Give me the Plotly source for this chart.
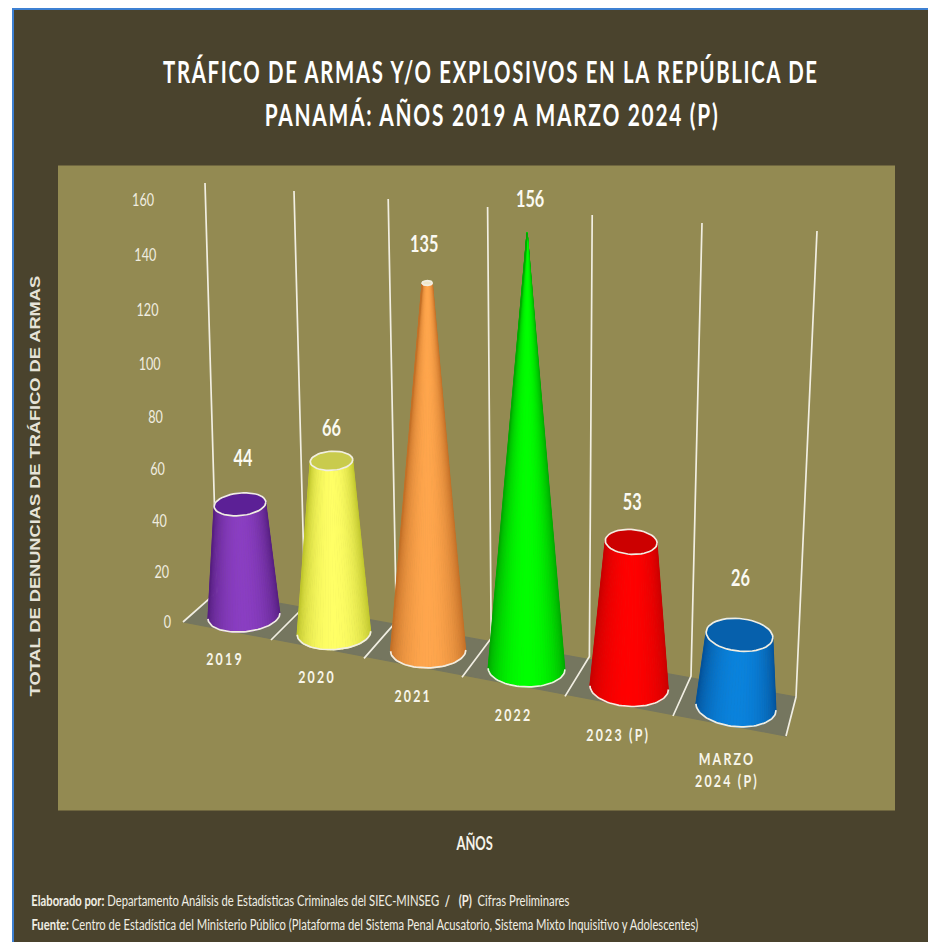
import json
import math
import plotly.graph_objects as go

# ---- data ----
CATEGORIES = ["2019", "2020", "2021", "2022", "2023 (P)", "MARZO<br>2024 (P)"]
VALUES = [44, 66, 135, 156, 53, 26]
Y_TICKS = [0, 20, 40, 60, 80, 100, 120, 140, 160]

TITLE_LINES = ["TRÁFICO DE ARMAS Y/O EXPLOSIVOS EN LA REPÚBLICA DE",
               "PANAMÁ: AÑOS 2019 A MARZO 2024 (P)"]
Y_TITLE = "TOTAL DE DENUNCIAS DE TRÁFICO DE ARMAS"
X_TITLE = "AÑOS"
FOOT_1 = ("<b>Elaborado por:</b> Departamento Análisis de Estadísticas Criminales del SIEC-MINSEG"
          "  <b>/</b>   <b>(P)</b>  Cifras Preliminares")
FOOT_2 = ("<b>Fuente:</b> Centro de Estadística del Ministerio Público (Plataforma del Sistema Penal "
          "Acusatorio, Sistema Mixto Inquisitivo y Adolescentes)")

# ---- styles ----
EDGE = ["#561f80", "#bfc52c", "#c26f27", "#00a800", "#c80000", "#04529a"]
MID = ["#8a3ec2", "#ffff66", "#ffa64d", "#00ff00", "#ff0000", "#0a82dc"]
INNER = ["#5c2096", "#c9cb4d", "#efe6c8", "#00ff00", "#cc0000", "#0660ac"]
LABEL_LIFT = [44, 30, 37, 31, 37, 54]
LABEL_SHIFT = [3, 0, -3, 3, 1, 1]
WHITE = "#f1eee2"
LATO = "Lato, sans-serif"
N_STRIPS = 40

# font size (px) -> horizontal condensing of the glyphs and the edge kept in place
CONDENSE = {"30px": [0.678, "c"], "30.5px": [0.685, "c"], "18px": [0.70, "r"],
            "22px": [0.74, "c"], "17px": [0.73, "c"], "19px": [0.68, "c"],
            "16px": [0.703, "l"], "15.5px": [1.177, "c"]}


# ---- oblique perspective projection of the chart box onto the page plane ----
def cx(t):
    return 244 + 90 * t + 2.1 * t * (t - 1)


def cy(t):
    return 616 + 17 * t + 0.3 * t * (t - 1)


def radius(t):
    return 36 * (1 + 0.0225 * t)


def flatten(t):
    return 0.44 + 0.01 * t


def tilt(t):
    return -0.08 + 0.032 * t


def rise(t, v):
    return (2.5 + 0.05 * t) * v * (1 + 0.00035 * v)


def lean(t):
    return -4 + 1.5 * t


def back(j):
    return 217 + 88 * j + 1.7 * j * (j - 1), 592 + 14 * j + 0.7 * j * (j - 1)


def front(j):
    return 183 + 88 * j + 2.5 * j * (j - 1), 622 + 18 * j + 0.2 * j * (j - 1)


def wall(j):
    return 205 + 89 * j + 2.6 * j * (j - 1), 183 + 8 * j


def tick_pos(v):
    y = 622 - v * (2.5 + 0.000875 * v)
    return 171 - 17 * (622 - y) / 423, y + 2


def mix(a, b, f):
    pa = [int(a[k:k + 2], 16) for k in (1, 3, 5)]
    pb = [int(b[k:k + 2], 16) for k in (1, 3, 5)]
    return "rgb(%d,%d,%d)" % tuple(round(p + (q - p) * f) for p, q in zip(pa, pb))


def ellipse(x0, y0, rx, ry, tl, a0, a1, n=48):
    xs, ys = [], []
    for k in range(n + 1):
        a = a0 + (a1 - a0) * k / n
        dx = rx * math.cos(a)
        xs.append(x0 + dx)
        ys.append(y0 + ry * math.sin(a) + tl * dx)
    return xs, ys


def area(xs, ys, color):
    return go.Scatter(x=xs, y=ys, mode="lines", fill="toself", fillcolor=color,
                      line=dict(color=color, width=1.2), hoverinfo="skip", showlegend=False)


def stroke(xs, ys, color=WHITE, width=1.7):
    return go.Scatter(x=xs, y=ys, mode="lines", line=dict(color=color, width=width),
                      hoverinfo="skip", showlegend=False)


fig = go.Figure()

# floor
n = len(CATEGORIES)
b0, bn, f0, fn = back(0), back(n), front(0), front(n)
fig.add_trace(area([b0[0], bn[0], fn[0], f0[0]], [b0[1], bn[1], fn[1], f0[1]], "#75765f"))

# separators and wall lines
for j in range(n + 1):
    f, b, w = front(j), back(j), wall(j)
    fig.add_trace(stroke([f[0], b[0], w[0]], [f[1], b[1], w[1]]))

# cones
apex = max(VALUES)
for i, v in enumerate(VALUES):
    R = radius(i)
    r_top = R * (1 - v / apex)
    k = flatten(i)
    tl = tilt(i)
    x0, y0 = cx(i), cy(i)
    x1, y1 = x0 + lean(i), y0 - rise(i, v)
    for s in range(N_STRIPS):
        a0 = math.pi * s / N_STRIPS
        a1 = math.pi * (s + 1) / N_STRIPS
        am = (a0 + a1) / 2
        f = math.sin(am) ** 1.4
        bx, by = ellipse(x0, y0, R, R * k, tl, a0, a1, 3)
        tx, ty = ellipse(x1, y1, r_top, r_top * k, tl, a1, a0, 3)
        fig.add_trace(area(bx + tx, by + ty, mix(EDGE[i], MID[i], f)))
    bx, by = ellipse(x0, y0, R, R * k, tl, 0, math.pi)
    fig.add_trace(stroke(bx, by))
    if r_top > 0.5:
        tx, ty = ellipse(x1, y1, r_top, r_top * k, tl, 0, 2 * math.pi)
        fig.add_trace(area(tx, ty, INNER[i]))
        fig.add_trace(stroke(tx, ty))

# tick labels
tp = [tick_pos(v) for v in Y_TICKS]
fig.add_trace(go.Scatter(x=[p[0] for p in tp], y=[p[1] for p in tp], mode="text",
                         text=[str(v) for v in Y_TICKS], textposition="middle left",
                         textfont=dict(family=LATO, size=18, color="#f0ede0"),
                         hoverinfo="skip", showlegend=False, cliponaxis=False))

# value labels
fig.add_trace(go.Scatter(
    x=[cx(i) + lean(i) + LABEL_SHIFT[i] for i in range(n)],
    y=[cy(i) - rise(i, v) - LABEL_LIFT[i] for i, v in enumerate(VALUES)],
    mode="text", text=["<b>%d</b>" % v for v in VALUES], textposition="middle center",
    textfont=dict(family=LATO, size=22, color="#fbfaf2"),
    hoverinfo="skip", showlegend=False, cliponaxis=False))

# category labels
spaced = '<span style="letter-spacing:3px"><b>%s</b></span>'
cat_text = ["<br>".join(spaced % part for part in c.split("<br>")) for c in CATEGORIES]
fig.add_trace(go.Scatter(
    x=[cx(i) - 19 + 2 * i for i in range(n)],
    y=[cy(i) + 45 + i + (15 if "<br>" in c else 0) for i, c in enumerate(CATEGORIES)],
    mode="text", text=cat_text, textposition="middle center",
    textfont=dict(family=LATO, size=17, color="#f7f5ea"),
    hoverinfo="skip", showlegend=False, cliponaxis=False))


def note(x, y, text, family, size, color="#ffffff", anchor="center", angle=0):
    return dict(x=x, y=y, xref="x", yref="y", text=text, showarrow=False, xanchor=anchor,
                yanchor="middle", textangle=angle, font=dict(family=family, size=size, color=color))


title_span = '<span style="letter-spacing:2.5px"><b>%s</b></span>'
annotations = [
    note(491, 71, title_span % TITLE_LINES[0], LATO, 30),
    note(492, 114, title_span % TITLE_LINES[1], LATO, 30.5),
    note(34, 486, "<b>%s</b>" % Y_TITLE, "Liberation Sans, Arial, sans-serif", 15.5, "#e6e3d8", angle=-90),
    note(474, 842, "<b>%s</b>" % X_TITLE, LATO, 19, "#f5f3ea"),
    note(29, 899, FOOT_1, LATO, 16, "#f0eee4", "left"),
    note(29, 923, FOOT_2, LATO, 16, "#f0eee4", "left"),
]

shapes = [
    dict(type="rect", xref="x", yref="y", x0=13, x1=930, y0=9, y1=944, layer="below",
         fillcolor="#4a432d", line=dict(color="#3d80d2", width=2)),
    dict(type="rect", xref="x", yref="y", x0=58, x1=895, y0=165.5, y1=810.5, layer="below",
         fillcolor="#938a52", line=dict(width=0)),
]

fig.update_layout(
    width=928, height=942, margin=dict(l=0, r=0, t=0, b=0, pad=0),
    paper_bgcolor="#ffffff", plot_bgcolor="rgba(0,0,0,0)", showlegend=False,
    xaxis=dict(range=[0, 928], visible=False, fixedrange=True),
    yaxis=dict(range=[942, 0], visible=False, fixedrange=True),
    shapes=shapes, annotations=annotations,
)

# The reference uses condensed lettering and no condensed face is installed:
# the real text elements are narrowed horizontally once they are drawn.
POST = """
document.body.style.margin='0';
document.documentElement.style.overflow='hidden';
(function(){
  var map = %s;
  function squeeze(){
    document.querySelectorAll('svg text').forEach(function(el){
      if(el.dataset.squeezed) return;
      var m = map[getComputedStyle(el).fontSize];
      if(!m) return;
      var b = el.getBBox();
      var px = m[1]==='l' ? b.x : (m[1]==='r' ? b.x+b.width : b.x+b.width/2);
      var t = el.getAttribute('transform')||'';
      el.setAttribute('transform', t+' translate('+px+',0) scale('+m[0]+',1) translate('+(-px)+',0)');
      el.dataset.squeezed='1';
    });
  }
  squeeze();
  setTimeout(squeeze,0);
  setTimeout(squeeze,100);
  setTimeout(squeeze,400);
})();
""" % json.dumps(CONDENSE)

fig.write_html("out.html", config=dict(displayModeBar=False), post_script=POST)
